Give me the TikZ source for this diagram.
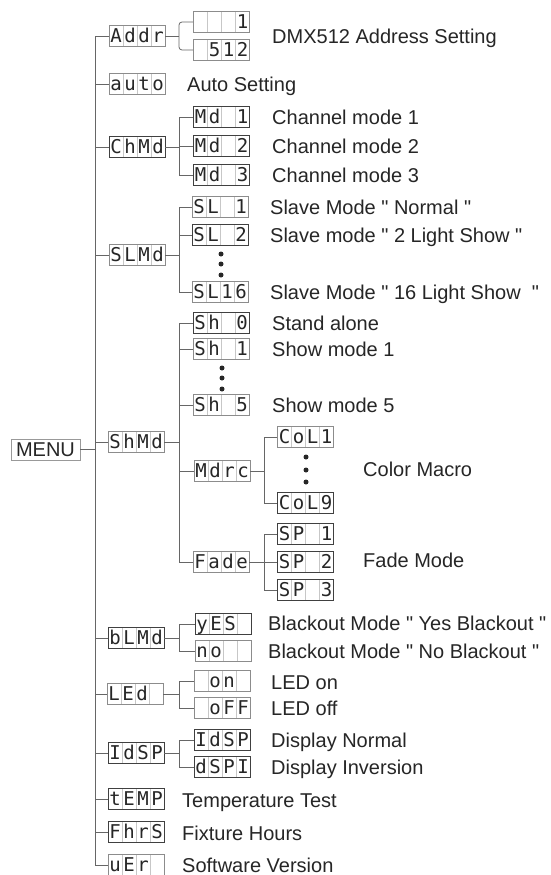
\documentclass[tikz,border=0pt]{standalone}
\usepackage{fontspec}
\setmainfont{Liberation Sans}[Ligatures=TeXOff]
\newfontfamily\segfont{DejaVu Sans Mono}
\usetikzlibrary{calc}
\newcommand\cells[4]{\makebox[14pt]{#1}\makebox[14pt]{#2}\makebox[14pt]{#3}\makebox[14pt]{#4}}
\tikzset{
  disp/.style={draw=black!45, line width=0.8pt, minimum width=56pt, minimum height=21pt,
    inner sep=0pt, text height=13.5pt, text depth=0pt, text=black!85,
    font=\segfont\fontsize{19}{19}\selectfont,
    path picture={\foreach \k in {1,2,3}{\draw[black!22, line width=0.6pt]
      ($(path picture bounding box.north west)!\k/4!(path picture bounding box.north east)$) --
      ($(path picture bounding box.south west)!\k/4!(path picture bounding box.south east)$);}}},
  dk/.style={draw=black!75},
  lbl/.style={anchor=west, inner sep=0pt, text height=14pt, text depth=0pt, text=black!85,
    font=\fontsize{20}{22}\selectfont},
  conn/.style={draw=black!60, line width=0.8pt},
  dot/.style={circle, fill=black!85, inner sep=0pt, minimum size=5pt}
}
\begin{document}
\begin{tikzpicture}[x=1pt,y=-1pt]
\path[use as bounding box, fill=white] (0,0) rectangle (551,875);
\coordinate (t) at (95,0);
\coordinate (b2) at (179,0);
\coordinate (b3) at (264,0);
% MENU
\node[draw=black!40, line width=0.8pt, minimum width=69pt, minimum height=21pt, inner sep=0pt,
  text height=14pt, text depth=0pt, font=\fontsize{20}{22}\selectfont, text=black!85] (menu) at (45.5,449.5) {MENU};
% level 1
\node[disp] (addr) at (137,36) {\cells Addr};
\node[disp] (auto) at (137,84) {\cells auto};
\node[disp,dk] (chmd) at (137,147) {\cells ChMd};
\node[disp] (slmd) at (137,255) {\cells SLMd};
\node[disp] (shmd) at (136,442) {\cells ShMd};
\node[disp,dk] (blmd) at (136,638) {\cells bLMd};
\node[disp] (led) at (135,694) {\cells LEd{}};
\node[disp,dk] (idspm) at (136,753) {\cells IdSP};
\node[disp,dk] (temp) at (136,799) {\cells tEMP};
\node[disp,dk] (fhrs) at (136,832) {\cells FhrS};
\node[disp] (uer) at (136,865) {\cells uEr{}};
% trunk
\draw[conn] (addr.west) -| (t |- uer.west) -- (uer.west);
\foreach \n in {auto,chmd,slmd,shmd,blmd,led,idspm,temp,fhrs}{\draw[conn] (\n.west) -- (t |- \n.west);}
\draw[conn] (menu.east) -- (t |- menu.east);
% Addr
\node[disp] (a1) at (221.5,22) {\cells{}{}{}1};
\node[disp] (a2) at (221.5,50) {\cells{}512};
\draw[conn] (addr.east) -- (b2 |- addr.east);
\draw[conn, rounded corners=3pt] (a1.west) -| (b2 |- a2.west) -- (a2.west);
% ChMd
\node[disp,dk] (m1) at (221.5,117) {\cells Md{}1};
\node[disp,dk] (m2) at (221.5,146) {\cells Md{}2};
\node[disp,dk] (m3) at (221.5,175) {\cells Md{}3};
\draw[conn] (chmd.east) -- (b2 |- chmd.east);
\draw[conn] (m1.west) -| (b2 |- m3.west) -- (m3.west);
\draw[conn] (m2.west) -- (b2 |- m2.west);
% SLMd
\node[disp] (s1) at (220,207) {\cells SL{}1};
\node[disp,dk] (s2) at (220,235) {\cells SL{}2};
\node[disp] (s16) at (220,292) {\cells SL16};
\node[dot] (sd1) at (221,254) {};
\node[dot] (sd2) at (221,264) {};
\node[dot] (sd3) at (221,275) {};
\draw[conn] (slmd.east) -- (b2 |- slmd.east);
\draw[conn] (s1.west) -| (b2 |- s16.west) -- (s16.west);
\draw[conn] (s2.west) -- (b2 |- s2.west);
% ShMd
\node[disp,dk] (h0) at (221,323) {\cells Sh{}0};
\node[disp] (h1) at (221,349) {\cells Sh{}1};
\node[dot] (hd1) at (222,368) {};
\node[dot] (hd2) at (222,378) {};
\node[dot] (hd3) at (222,389) {};
\node[disp] (h5) at (221,405) {\cells Sh{}5};
\node[disp] (mdrc) at (222,471) {\cells Mdrc};
\node[disp] (fade) at (221,562) {\cells Fade};
\draw[conn] (shmd.east) -- (b2 |- shmd.east);
\draw[conn] (h0.west) -| (b2 |- fade.west) -- (fade.west);
\foreach \n in {h1,h5,mdrc}{\draw[conn] (\n.west) -- (b2 |- \n.west);}
% Mdrc
\node[disp] (c1) at (305.5,437) {\cells CoL1};
\node[dot] (cd1) at (306,457) {};
\node[dot] (cd2) at (306,470) {};
\node[dot] (cd3) at (306,482) {};
\node[disp,dk] (c9) at (305.5,503) {\cells CoL9};
\draw[conn] (mdrc.east) -- (b3 |- mdrc.east);
\draw[conn] (c1.west) -| (b3 |- c9.west) -- (c9.west);
% Fade
\node[disp,dk] (sp1) at (305.5,534) {\cells SP{}1};
\node[disp,dk] (sp2) at (305.5,562) {\cells SP{}2};
\node[disp,dk] (sp3) at (305.5,590) {\cells SP{}3};
\draw[conn] (fade.east) -- (sp2.west);
\draw[conn] (sp1.west) -| (b3 |- sp3.west) -- (sp3.west);
% bLMd
\node[disp,dk] (yes) at (223,624) {\cells yES{}};
\node[disp] (no) at (223,651) {\cells no{}{}};
\draw[conn] (blmd.east) -- (b2 |- blmd.east);
\draw[conn] (yes.west) -| (b2 |- no.west) -- (no.west);
% LEd
\node[disp] (on) at (222,681) {\cells{}on{}};
\node[disp] (off) at (222,708) {\cells{}oFF};
\draw[conn] (led.east) -- (b2 |- led.east);
\draw[conn] (on.west) -| (b2 |- off.west) -- (off.west);
% IdSP
\node[disp,dk] (idsp) at (222,740) {\cells IdSP};
\node[disp,dk] (dspi) at (222,767) {\cells dSPI};
\draw[conn] (idspm.east) -- (b2 |- idspm.east);
\draw[conn] (idsp.west) -| (b2 |- dspi.west) -- (dspi.west);
% labels
\node[lbl] (l1) at (272,37) {DMX512 Address Setting};
\node[lbl] (l2) at (187,84) {Auto Setting};
\node[lbl] (l3) at (272,117) {Channel mode 1};
\node[lbl] (l4) at (272,146) {Channel mode 2};
\node[lbl] (l5) at (272,175) {Channel mode 3};
\node[lbl] (l6) at (270,207) {Slave Mode " Normal "};
\node[lbl] (l7) at (270,235) {Slave mode " 2 Light Show "};
\node[lbl] (l8) at (270,292) {Slave Mode " 16 Light Show\ \ "};
\node[lbl] (l9) at (272,323) {Stand alone};
\node[lbl] (l10) at (272,349) {Show mode 1};
\node[lbl] (l11) at (272,405) {Show mode 5};
\node[lbl] (l12) at (363,469) {Color Macro};
\node[lbl] (l13) at (363,560) {Fade Mode};
\node[lbl] (l14) at (268,623) {Blackout Mode " Yes Blackout "};
\node[lbl] (l15) at (268,651) {Blackout Mode " No Blackout "};
\node[lbl] (l16) at (271,682) {LED on};
\node[lbl] (l17) at (271,708) {LED off};
\node[lbl] (l18) at (271,740) {Display Normal};
\node[lbl] (l19) at (271,767) {Display Inversion};
\node[lbl] (l20) at (182,800) {Temperature Test};
\node[lbl] (l21) at (182,833) {Fixture Hours};
\node[lbl] (l22) at (182,865) {Software Version};
\end{tikzpicture}
\end{document}
